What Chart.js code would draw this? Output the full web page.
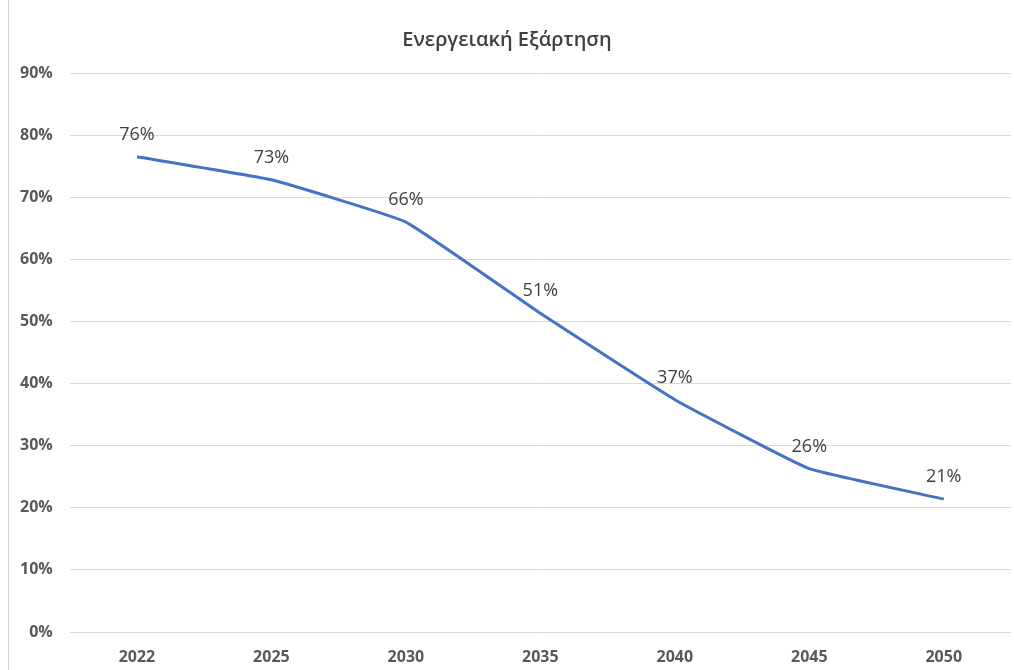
<!DOCTYPE html>
<html>
<head>
<meta charset="utf-8">
<script src="https://cdn.jsdelivr.net/npm/chart.js@4.4.0/dist/chart.umd.min.js"></script>
<style>
	html, body { margin: 0; padding: 0; background: #fff; }
	#wrap { position: relative; width: 1014px; height: 670px; overflow: hidden; }
	#frame { position: absolute; left: 8px; top: -2px; width: 1020px; height: 680px; border-left: 1px solid #d0d0d0; }
	#EnergyChart { position: absolute; left: 0; top: 0; }
</style>
</head>
<body>
<div id="wrap">
	<div id="frame"></div>
	<canvas id="EnergyChart" width="1014" height="670"></canvas>
</div>
<script>
'use strict';
const aryYears = ['2022', '2025', '2030', '2035', '2040', '2045', '2050'];
const aryDependence = [76.5, 72.8, 66.0, 51.3, 37.4, 26.3, 21.4];
const aryDataLabels = ['76%', '73%', '66%', '51%', '37%', '26%', '21%'];
const chartTitle = 'Ενεργειακή Εξάρτηση';

// draws the value above each point, like the data labels in the original
const dataLabelPlugin = {
	id: 'dataLabels',
	afterDatasetsDraw(chart) {
		const ctx = chart.ctx;
		const meta = chart.getDatasetMeta(0);
		ctx.save();
		ctx.font = '18px "Open Sans"';
		ctx.fillStyle = '#404040';
		ctx.textAlign = 'center';
		ctx.textBaseline = 'middle';
		meta.data.forEach((pt, i) => {
			ctx.fillText(aryDataLabels[i], pt.x, pt.y - 22);
		});
		ctx.restore();
	}
};

new Chart(document.getElementById('EnergyChart'), {
	type: 'line',
	data: {
		labels: aryYears,
		datasets: [{
			data: aryDependence,
			borderColor: '#4472c4',
			backgroundColor: '#4472c4',
			borderWidth: 3,
			pointRadius: 0,
			tension: 0.1,
		}],
	},
	options: {
		responsive: false,
		animation: false,
		layout: { padding: { left: 3, right: 3, top: 28, bottom: 0 } },
		plugins: {
			legend: { display: false },
			tooltip: { enabled: false },
			title: {
				display: true,
				text: chartTitle,
				color: '#404040',
				font: { family: '"Open Sans"', size: 20, weight: '600' },
				padding: { top: 0, bottom: 21 },
			},
		},
		scales: {
			x: {
				offset: true,
				grid: { display: false, drawTicks: false },
				border: { display: false },
				ticks: {
					color: '#595959',
					font: { family: '"Open Sans"', size: 16, weight: 'bold' },
					padding: 16,
				},
				afterFit: (scale) => { scale.height = 38; },
			},
			y: {
				min: 0,
				max: 90,
				ticks: {
					stepSize: 10,
					color: '#595959',
					font: { family: '"Open Sans"', size: 16, weight: 'bold' },
					padding: 17,
					callback: (v) => v + '%',
				},
				grid: { color: '#d9d9d9', lineWidth: 1, drawTicks: false },
				border: { display: false },
			},
		},
	},
	plugins: [dataLabelPlugin],
});
</script>
</body>
</html>
